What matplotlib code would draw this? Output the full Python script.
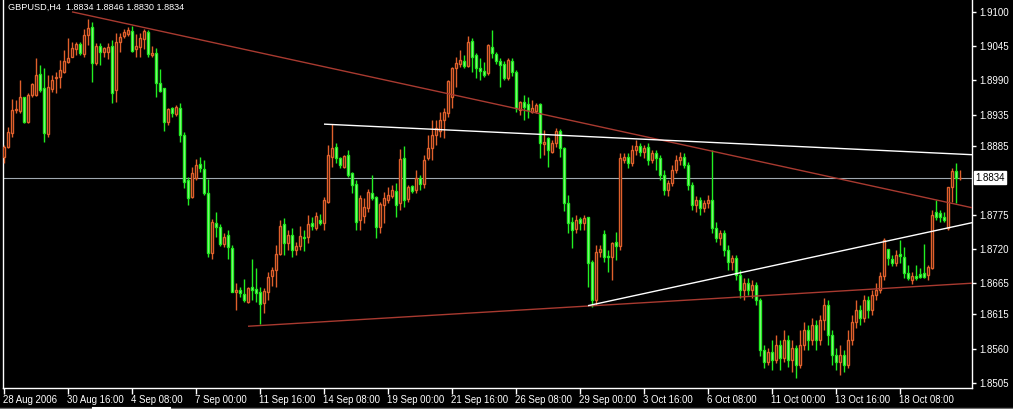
import numpy as np
from matplotlib import pyplot as plt
from matplotlib.lines import Line2D
import matplotlib.transforms as mtrans

plt.rcParams['font.family'] = ['Liberation Sans', 'DejaVu Sans']

# GBPUSD H4 bars, 28 Aug 2006 00:00 .. 20 Oct 2006 20:00, prices in pips (x 1e-4)
opens = [18867, 18883, 18905, 18943, 18941, 18963, 18923, 18967, 18967, 19000,
         18978, 18904, 18976, 18994, 18996, 19004, 19020, 19028, 19040, 19048,
         19032, 19063, 19076, 19018, 19045, 19036, 19036, 19045, 18975, 19052,
         19061, 19064, 19069, 19040, 19044, 19056, 19068, 19031, 19034, 18986,
         18978, 18923, 18946, 18936, 18946, 18902, 18830, 18803, 18833, 18856,
         18848, 18809, 18713, 18761, 18755, 18728, 18742, 18721, 18651, 18654,
         18647, 18635, 18659, 18656, 18651, 18633, 18651, 18677, 18686, 18712,
         18760, 18729, 18742, 18718, 18724, 18739, 18739, 18761, 18753, 18766,
         18761, 18795, 18867, 18883, 18866, 18851, 18870, 18841, 18824, 18766,
         18772, 18785, 18809, 18803, 18755, 18790, 18798, 18805, 18813, 18793,
         18866, 18800, 18821, 18814, 18833, 18824, 18866, 18882, 18902, 18909,
         18926, 18938, 18963, 19010, 19016, 19021, 19013, 19053, 19031, 19010,
         19005, 19002, 19044, 19032, 19021, 19016, 18994, 19021, 19004, 18943,
         18955, 18952, 18939, 18941, 18952, 18888, 18898, 18875, 18889, 18909,
         18882, 18793, 18763, 18752, 18768, 18761, 18771, 18699, 18638, 18715,
         18744, 18709, 18707, 18731, 18724, 18862, 18867, 18857, 18878, 18885,
         18875, 18883, 18862, 18874, 18866, 18838, 18814, 18825, 18846, 18862,
         18867, 18854, 18822, 18790, 18798, 18785, 18793, 18798, 18753, 18737,
         18745, 18718, 18699, 18705, 18678, 18654, 18665, 18654, 18662, 18638,
         18558, 18539, 18555, 18542, 18566, 18545, 18574, 18542, 18561, 18534,
         18566, 18590, 18574, 18598, 18574, 18606, 18630, 18582, 18550, 18539,
         18550, 18534, 18574, 18603, 18622, 18609, 18638, 18622, 18646, 18654,
         18677, 18720, 18704, 18697, 18712, 18707, 18681, 18670, 18677, 18680,
         18681, 18678, 18689, 18779, 18777, 18771, 18753, 18819, 18845, 18834]
highs = [18886, 18915, 18960, 18959, 18991, 18963, 18970, 18986, 19026, 19015,
         19010, 18999, 18999, 19004, 19023, 19039, 19058, 19052, 19052, 19052,
         19072, 19089, 19084, 19050, 19050, 19044, 19050, 19055, 19066, 19066,
         19072, 19076, 19077, 19064, 19066, 19072, 19071, 19045, 19042, 19008,
         18978, 18946, 18948, 18951, 18954, 18907, 18835, 18851, 18864, 18867,
         18862, 18832, 18768, 18779, 18760, 18745, 18750, 18726, 18665, 18659,
         18672, 18659, 18704, 18689, 18659, 18657, 18683, 18691, 18726, 18766,
         18769, 18750, 18753, 18731, 18756, 18750, 18774, 18771, 18779, 18776,
         18803, 18886, 18920, 18889, 18867, 18870, 18878, 18843, 18830, 18806,
         18801, 18816, 18838, 18805, 18795, 18811, 18819, 18822, 18826, 18880,
         18885, 18822, 18822, 18846, 18838, 18870, 18902, 18926, 18926, 18939,
         18946, 18991, 19012, 19028, 19039, 19031, 19061, 19058, 19034, 19026,
         19020, 19048, 19071, 19036, 19026, 19021, 19026, 19026, 19007, 18957,
         18967, 18963, 18959, 18954, 18954, 18910, 18899, 18894, 18914, 18912,
         18883, 18806, 18771, 18774, 18771, 18774, 18771, 18702, 18726, 18726,
         18750, 18718, 18731, 18747, 18874, 18874, 18874, 18886, 18894, 18890,
         18886, 18890, 18878, 18878, 18870, 18846, 18830, 18854, 18870, 18875,
         18874, 18859, 18827, 18804, 18803, 18798, 18806, 18878, 18763, 18750,
         18750, 18726, 18710, 18710, 18686, 18673, 18673, 18670, 18667, 18641,
         18566, 18561, 18574, 18582, 18574, 18590, 18582, 18574, 18566, 18590,
         18603, 18598, 18609, 18606, 18614, 18641, 18638, 18590, 18561, 18566,
         18558, 18590, 18614, 18638, 18630, 18646, 18644, 18654, 18665, 18683,
         18738, 18720, 18710, 18718, 18734, 18723, 18694, 18683, 18694, 18689,
         18728, 18694, 18782, 18798, 18782, 18779, 18819, 18850, 18857, 18846]
lows = [18857, 18882, 18900, 18938, 18938, 18922, 18922, 18963, 18965, 18971,
        18891, 18899, 18971, 18970, 18978, 19002, 19018, 19028, 19031, 19031,
        19028, 19047, 18987, 19015, 19015, 19028, 19024, 18954, 18955, 19036,
        19058, 19061, 19036, 19028, 19028, 19040, 19028, 19028, 18963, 18971,
        18909, 18918, 18931, 18933, 18891, 18817, 18790, 18801, 18830, 18843,
        18806, 18707, 18704, 18739, 18725, 18723, 18704, 18651, 18622, 18643,
        18635, 18633, 18638, 18635, 18600, 18617, 18638, 18661, 18659, 18710,
        18710, 18718, 18707, 18710, 18718, 18716, 18729, 18750, 18750, 18759,
        18750, 18793, 18851, 18857, 18849, 18850, 18835, 18809, 18750, 18750,
        18761, 18779, 18798, 18737, 18745, 18761, 18793, 18801, 18771, 18782,
        18787, 18795, 18809, 18809, 18814, 18817, 18862, 18862, 18886, 18899,
        18898, 18931, 18946, 18979, 19012, 19010, 19012, 19004, 18994, 18991,
        18996, 18999, 19026, 19016, 18979, 18991, 18991, 18997, 18939, 18935,
        18926, 18930, 18938, 18938, 18866, 18871, 18851, 18873, 18883, 18867,
        18780, 18745, 18721, 18745, 18750, 18750, 18659, 18627, 18630, 18707,
        18699, 18683, 18670, 18702, 18718, 18857, 18849, 18853, 18870, 18869,
        18866, 18854, 18857, 18846, 18830, 18806, 18805, 18821, 18841, 18854,
        18849, 18814, 18782, 18779, 18775, 18779, 18785, 18745, 18731, 18726,
        18708, 18686, 18686, 18670, 18641, 18638, 18646, 18641, 18630, 18548,
        18529, 18534, 18526, 18537, 18526, 18539, 18531, 18522, 18513, 18529,
        18558, 18558, 18566, 18558, 18566, 18590, 18566, 18534, 18526, 18518,
        18522, 18529, 18566, 18593, 18598, 18603, 18609, 18614, 18638, 18649,
        18670, 18694, 18692, 18692, 18697, 18673, 18670, 18663, 18670, 18673,
        18673, 18670, 18688, 18766, 18763, 18763, 18750, 18795, 18793, 18830]
closes = [18883, 18907, 18943, 18944, 18963, 18923, 18967, 18984, 18999, 18975,
          18905, 18979, 18991, 18996, 19007, 19021, 19026, 19042, 19048, 19034,
          19063, 19074, 19018, 19045, 19036, 19042, 19044, 18970, 19052, 19060,
          19068, 19071, 19037, 19045, 19058, 19069, 19032, 19034, 18986, 18973,
          18923, 18944, 18938, 18948, 18902, 18827, 18801, 18841, 18854, 18849,
          18809, 18713, 18763, 18755, 18728, 18739, 18723, 18651, 18654, 18649,
          18638, 18657, 18654, 18649, 18632, 18652, 18675, 18686, 18712, 18757,
          18729, 18742, 18718, 18724, 18740, 18738, 18760, 18756, 18772, 18761,
          18798, 18871, 18882, 18866, 18854, 18869, 18838, 18822, 18763, 18801,
          18787, 18811, 18801, 18755, 18792, 18801, 18806, 18814, 18790, 18864,
          18798, 18819, 18813, 18833, 18824, 18862, 18882, 18902, 18914, 18926,
          18939, 18989, 19010, 19018, 19023, 19013, 19052, 19028, 19010, 19005,
          18999, 19047, 19034, 19021, 19015, 18994, 19023, 19004, 18946, 18955,
          18947, 18943, 18946, 18950, 18889, 18891, 18878, 18889, 18909, 18882,
          18793, 18761, 18750, 18766, 18761, 18769, 18697, 18638, 18715, 18720,
          18707, 18707, 18729, 18724, 18866, 18867, 18857, 18878, 18885, 18875,
          18882, 18862, 18874, 18866, 18838, 18814, 18825, 18846, 18862, 18867,
          18854, 18822, 18790, 18798, 18785, 18793, 18798, 18753, 18737, 18745,
          18718, 18699, 18705, 18678, 18654, 18665, 18654, 18662, 18638, 18558,
          18539, 18555, 18542, 18566, 18545, 18574, 18542, 18561, 18534, 18566,
          18590, 18574, 18598, 18574, 18606, 18630, 18582, 18550, 18539, 18550,
          18534, 18574, 18603, 18622, 18609, 18638, 18622, 18646, 18654, 18677,
          18735, 18705, 18697, 18710, 18708, 18681, 18673, 18677, 18673, 18675,
          18675, 18691, 18774, 18771, 18771, 18766, 18819, 18845, 18834, 18834]

o = np.array(opens) / 10000.
h = np.array(highs) / 10000.
l = np.array(lows) / 10000.
c = np.array(closes) / 10000.
bars = np.arange(len(o))

time_tick_bars = [0, 16, 32, 48, 64, 80, 96, 112, 128, 144, 160, 176, 192, 208, 224]
time_tick_labels = ['28 Aug 2006', '30 Aug 16:00', '4 Sep 08:00', '7 Sep 00:00',
                    '11 Sep 16:00', '14 Sep 08:00', '19 Sep 00:00', '21 Sep 16:00',
                    '26 Sep 08:00', '29 Sep 00:00', '3 Oct 16:00', '6 Oct 08:00',
                    '11 Oct 00:00', '13 Oct 16:00', '18 Oct 08:00']
price_ticks = [1.9100, 1.9045, 1.8990, 1.8935, 1.8885, 1.8775, 1.8720,
               1.8665, 1.8615, 1.8560, 1.8505]
bid = 1.8834

# trend lines (bar index, price) -> drawn as rays to the right edge
red_top = ([17, 242], [1.9100, 1.8786])
red_low = ([61, 242], [1.8596, 1.8665])
white_top = ([80, 242], [1.8920, 1.8871])
white_low = ([146, 242], [1.8629, 1.8762])

up_col = '#e0602c'
dn_col = '#22ee22'
dn_fill = '#b8f8b0'

fig = plt.figure(figsize=(10.13, 4.09), dpi=100, facecolor='black')
ax = fig.add_axes([3/1013., 21/409., 969/1013., 388/409.])
ax.set_facecolor('black')

up = c >= o
cols = np.where(up, up_col, dn_col)
ax.vlines(bars, l, h, colors=cols, lw=1.0, zorder=3)
body_lo = np.minimum(o, c)
body_h = np.maximum(np.abs(c - o), 0.00002)
ax.bar(bars[up], body_h[up], bottom=body_lo[up], width=0.55, facecolor='black',
       edgecolor=up_col, lw=1.0, zorder=4)
ax.bar(bars[~up], body_h[~up], bottom=body_lo[~up], width=0.55, facecolor=dn_fill,
       edgecolor=dn_col, lw=1.0, zorder=4)

for (tx, ty), col in [(red_top, '#a83a30'), (red_low, '#a83a30'),
                      (white_top, 'white'), (white_low, 'white')]:
    ax.plot(tx, ty, color=col, lw=1.0, zorder=5, solid_capstyle='butt')

ax.axhline(bid, color='#a0a8b0', lw=0.8, zorder=2)

ax.set_xlim(-0.25, 242)
ax.set_ylim(1.8497, 1.9119)

ax.spines['top'].set_visible(False)
for s in ['left', 'right', 'bottom']:
    ax.spines[s].set_color('white')
    ax.spines[s].set_linewidth(1.0)

ax.yaxis.tick_right()
ax.set_yticks(price_ticks)
ax.set_yticklabels(['%.4f' % p for p in price_ticks])
ax.tick_params(axis='y', colors='white', length=3, width=1, pad=2, labelsize=7)
ax.set_xticks(time_tick_bars)
ax.set_xticklabels(time_tick_labels)
ax.tick_params(axis='x', colors='white', length=4, width=1, pad=1, labelsize=6.9)
for lab in ax.get_xticklabels():
    lab.set_ha('left')
    lab.set_transform(lab.get_transform() + mtrans.ScaledTranslation(-1/100., 0, fig.dpi_scale_trans))

trans = mtrans.blended_transform_factory(ax.transAxes, ax.transData)
ax.text(1.0035, bid, '%.4f' % bid, transform=trans, color='black', fontsize=7,
        va='center', ha='left',
        bbox=dict(boxstyle='square,pad=0.15', facecolor='white', edgecolor='white'))

fig.text(8/1013., 1 - 7.5/409., 'GBPUSD,H4  %.4f %.4f %.4f %.4f' % (o[-1], h[-1], l[-1], c[-1]),
         color='white', fontsize=6.6, va='center', ha='left')

# scrollbar strip at the very bottom
fig.add_artist(Line2D([0, 1], [1.5/409, 1.5/409], color='#707070', lw=1))
fig.add_artist(Line2D([93/1013., 170/1013.], [1.5/409, 1.5/409], color='white', lw=1.5))

fig.savefig('out.png', dpi=100, facecolor='black')
